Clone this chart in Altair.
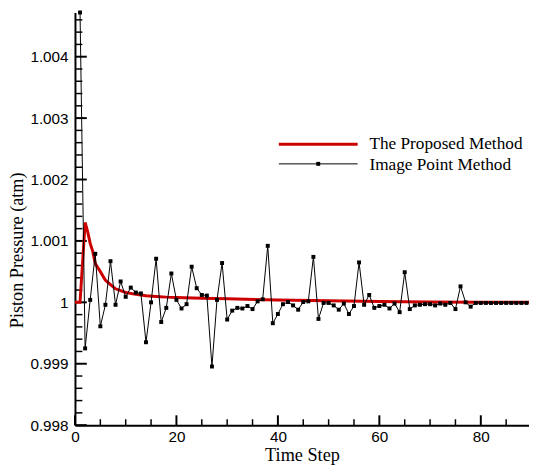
import altair as alt
import pandas as pd

# ---------------- data ----------------
time_steps = list(range(1, 90))
image_point = [
    1.00472, 0.99925, 1.00004, 1.00079, 0.99961, 0.99996, 1.00067, 0.99996, 1.00034, 1.00009,
    1.00024, 1.00016, 1.000145, 0.99935, 1.0, 1.00071, 0.99968, 0.99991, 1.00047, 1.00004,
    0.99990, 0.99997, 1.00058, 1.00023, 1.00012, 1.00011, 0.998955, 1.00004, 1.00064, 0.99972,
    0.999865, 0.99991, 0.99990, 0.99994, 0.99989, 1.000016, 1.00005, 1.00092, 0.99966, 0.99981,
    0.99997, 1.000005, 0.99995, 0.99988, 1.000005, 1.000016, 1.00074, 0.99973, 0.99999, 0.99999,
    0.99995, 0.99988, 0.99998, 0.99981, 0.99994, 1.00065, 0.99996, 1.00012, 0.99991, 0.99994,
    0.99996, 0.99990, 0.99998, 0.99984, 1.00049, 0.99989, 0.99995, 0.99996, 0.99997, 0.99997,
    0.99995, 0.99998, 0.99996, 0.99999, 0.99989, 1.00026, 1.0, 0.99993, 0.99999, 0.99999,
    0.99999, 0.99999, 0.99999, 0.99999, 0.99999, 0.99999, 0.99999, 0.99999, 0.99999,
]
proposed_t = [0, 1, 2, 2.5, 3, 3.5, 4, 5, 6, 7, 8, 9, 10, 12, 14, 16, 18, 20, 25, 30,
              40, 50, 60, 70, 80, 89.5]
proposed_v = [1.0, 1.0, 1.0013, 1.00115, 1.00096, 1.00083, 1.00063, 1.0005, 1.00036, 1.00029,
              1.00022, 1.00019, 1.00016, 1.00013, 1.000106, 1.000096, 1.000085, 1.00008,
              1.000065, 1.000058, 1.000037, 1.000025, 1.000015, 1.000005, 1.0, 1.0]

series_names = ["The Proposed Method", "Image Point Method"]
x_tick_labels = [0, 20, 40, 60, 80]
x_minor_ticks = [5, 10, 15, 25, 30, 35, 45, 50, 55, 65, 70, 75, 85]
y_tick_labels = [0.998, 0.999, 1.0, 1.001, 1.002, 1.003, 1.004]
y_minor_ticks = [round(0.998 + 0.0002 * k, 4) for k in range(34) if k % 5]
x_domain = [0, 89.5]
y_domain = [0.998, 1.00472]

# ---------------- styling ----------------
W, H = 461, 419
RED = "#cc0000"
SANS = "Liberation Sans"
SERIF = "Liberation Serif"

xs = alt.Scale(domain=x_domain, nice=False, zero=False)
ys = alt.Scale(domain=y_domain, nice=False, zero=False)

red_df = pd.DataFrame({"x": proposed_t, "y": proposed_v})
black_df = pd.DataFrame({"x": time_steps, "y": image_point})

x_axis = alt.Axis(
    values=x_tick_labels, format="d", title="Time Step",
    titleFont=SERIF, titleFontSize=18.5, titleFontWeight="normal", titleColor="black",
    titleY=35.5, titleBaseline="alphabetic",
    labelFont=SANS, labelFontSize=15.5, labelColor="black", labelPadding=5,
    labelFlush=False, labelOverlap=False,
    ticks=False, grid=False, domainColor="black", domainWidth=2,
)
y_axis = alt.Axis(
    values=y_tick_labels, format="~g", title="Piston Pressure (atm)",
    titleFont=SERIF, titleFontSize=18.5, titleFontWeight="normal", titleColor="black",
    titleAngle=270, titleX=-53.5, titleY=241, titleAlign="center", titleBaseline="alphabetic",
    labelFont=SANS, labelFontSize=15.5, labelColor="black", labelPadding=7,
    labelOverlap=False,
    ticks=False, grid=False, domainColor="black", domainWidth=2,
)

# invisible base layer that carries the axes (other layers leave axis unset so it merges)
base_axes = alt.Chart(black_df).mark_point(opacity=0).encode(
    x=alt.X("x:Q", scale=xs, axis=x_axis),
    y=alt.Y("y:Q", scale=ys, axis=y_axis),
)

red = alt.Chart(red_df).mark_line(color=RED, strokeWidth=3).encode(
    x=alt.X("x:Q", scale=xs),
    y=alt.Y("y:Q", scale=ys),
)

black_line = alt.Chart(black_df).mark_line(color="black", strokeWidth=1).encode(
    x=alt.X("x:Q", scale=xs),
    y=alt.Y("y:Q", scale=ys),
)
black_pts = alt.Chart(black_df).mark_square(size=16, color="black", opacity=1).encode(
    x=alt.X("x:Q", scale=xs),
    y=alt.Y("y:Q", scale=ys),
)

def yticks(vals, length, width):
    return alt.Chart(pd.DataFrame({"y": vals})).mark_rule(color="black", strokeWidth=width).encode(
        y=alt.Y("y:Q", scale=ys), x=alt.value(0), x2=alt.value(length))

def xticks(vals, length, width):
    return alt.Chart(pd.DataFrame({"x": vals})).mark_rule(color="black", strokeWidth=width).encode(
        x=alt.X("x:Q", scale=xs), y=alt.value(H), y2=alt.value(H - length))

leg_red_line = alt.Chart(pd.DataFrame({"s": [series_names[0]]})).mark_rule(
    color=RED, strokeWidth=3).encode(x=alt.value(207), x2=alt.value(287), y=alt.value(133.7))
leg_black_line = alt.Chart(pd.DataFrame({"s": [series_names[1]]})).mark_rule(
    color="black", strokeWidth=1).encode(x=alt.value(207), x2=alt.value(287), y=alt.value(153.7))
leg_black_pt = alt.Chart(pd.DataFrame({"s": [series_names[1]]})).mark_square(
    size=16, color="black", opacity=1).encode(x=alt.value(247), y=alt.value(153.7))

def leg_text(name, ypix):
    return alt.Chart(pd.DataFrame({"s": [name]})).mark_text(
        align="left", baseline="alphabetic", font=SERIF, fontSize=17.5, color="black").encode(
        text="s:N", x=alt.value(299), y=alt.value(ypix))

chart = alt.layer(
    base_axes,
    yticks(y_tick_labels, 12, 2), yticks(y_minor_ticks, 7.5, 1.5),
    xticks(x_tick_labels, 10, 2), xticks(x_minor_ticks, 6, 1.5),
    red, black_line, black_pts,
    leg_red_line, leg_black_line, leg_black_pt,
    leg_text(series_names[0], 138.3), leg_text(series_names[1], 160.0),
).properties(
    width=W, height=H,
    autosize=alt.AutoSizeParams(type="none"),
    padding={"left": 68, "top": 1, "right": 0, "bottom": 43},
    background="white",
).configure_view(stroke=None)

chart.save("out.html", embed_options={"renderer": "svg", "actions": False})
